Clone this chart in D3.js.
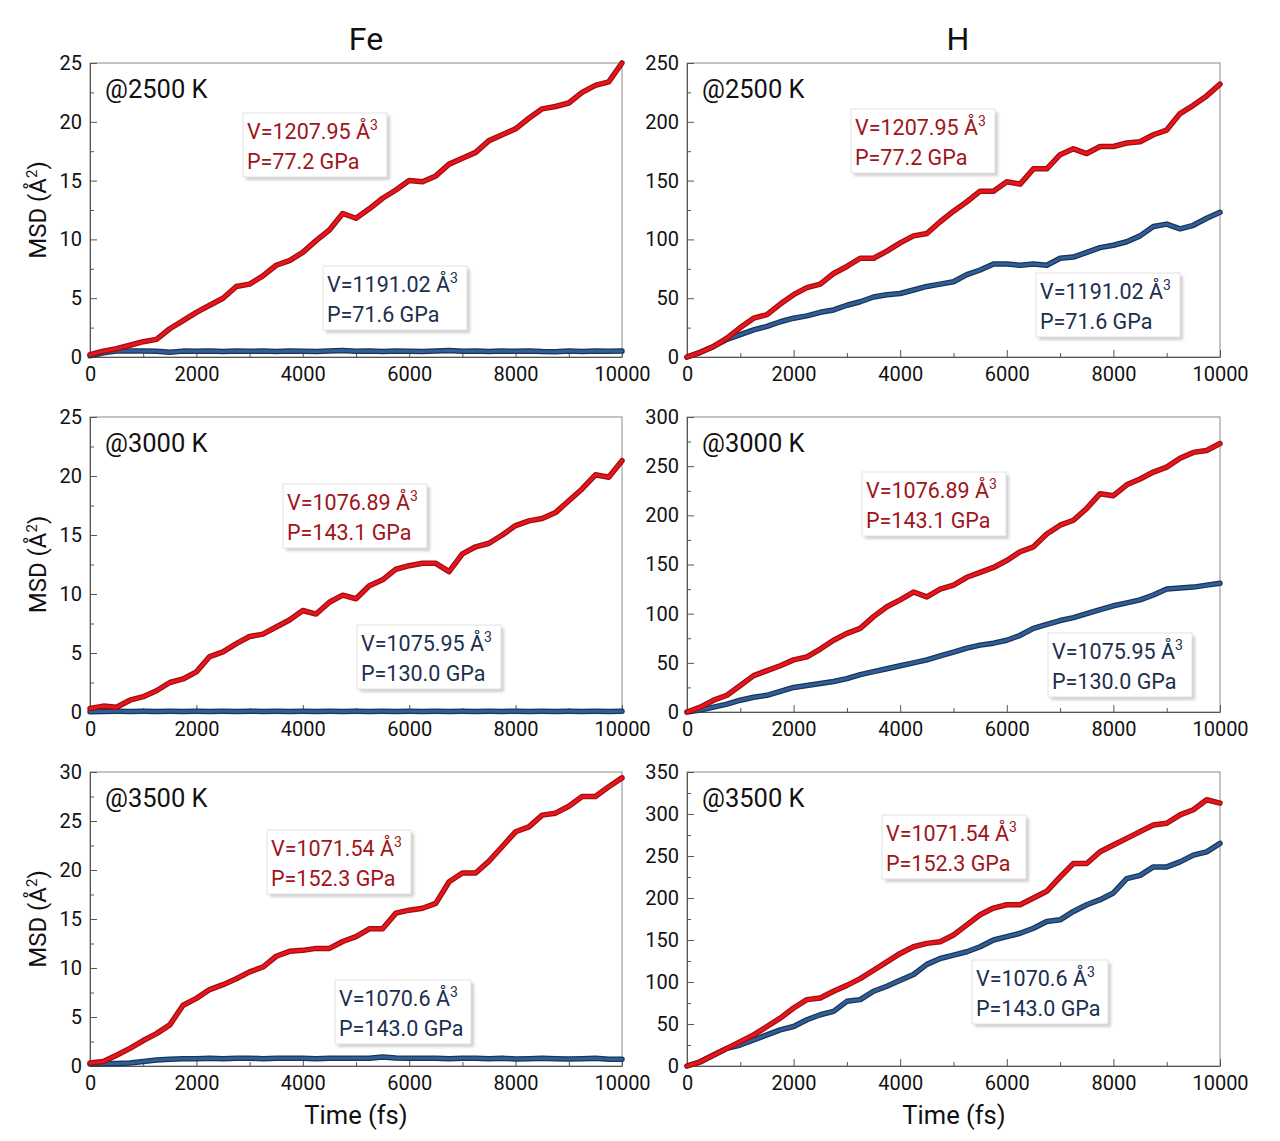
<!DOCTYPE html>
<html>
<head>
<meta charset="utf-8">
<script src="https://cdn.jsdelivr.net/npm/d3@7"></script>
<style>
  html, body { margin: 0; padding: 0; background: #fff; }
  svg { display: block; font-family: Roboto, "Noto Sans", sans-serif; }
</style>
</head>
<body>
<svg id="chart" width="1280" height="1141"></svg>
<script>
// ---------------- DATA ----------------
const timeFs = [0,250,500,750,1000,1250,1500,1750,2000,2250,2500,2750,3000,3250,3500,3750,4000,4250,4500,4750,
  5000,5250,5500,5750,6000,6250,6500,6750,7000,7250,7500,7750,8000,8250,8500,8750,9000,9250,9500,9750,10000];

const columnTitles = ["Fe", "H"];
const temperatures = ["@2500 K", "@3000 K", "@3500 K"];

const xTicks = [0, 2000, 4000, 6000, 8000, 10000];
const yMaxFe = [25, 25, 30];
const yMaxH = [250, 300, 350];

// Fe MSD (Å^2)
const feRed2500 = [0.2,0.5,0.7,1.0,1.3,1.5,2.4,3.1,3.8,4.4,5.0,6.0,6.2,6.9,7.8,8.2,8.9,9.9,10.8,12.2,
  11.8,12.6,13.5,14.2,15.0,14.9,15.4,16.4,16.9,17.4,18.4,18.9,19.4,20.3,21.1,21.3,21.6,22.5,23.1,23.4,25.0];
const feBlue2500 = [0.1,0.35,0.5,0.5,0.5,0.48,0.4,0.5,0.48,0.5,0.47,0.5,0.48,0.5,0.46,0.5,0.48,0.47,0.5,0.55,
  0.48,0.5,0.47,0.5,0.48,0.46,0.5,0.55,0.48,0.5,0.47,0.5,0.48,0.5,0.46,0.45,0.5,0.47,0.5,0.48,0.5];
const feRed3000 = [0.3,0.5,0.4,1.0,1.3,1.8,2.5,2.8,3.4,4.7,5.1,5.8,6.4,6.6,7.2,7.8,8.6,8.3,9.3,9.9,
  9.6,10.7,11.2,12.1,12.4,12.6,12.6,11.9,13.4,14.0,14.3,15.0,15.8,16.2,16.4,16.9,17.9,18.9,20.1,19.9,21.3];
const feBlue3000 = [0.02,0.05,0.06,0.05,0.06,0.05,0.06,0.05,0.06,0.05,0.06,0.05,0.06,0.05,0.06,0.05,0.06,0.05,0.06,0.05,
  0.06,0.05,0.06,0.05,0.06,0.05,0.06,0.05,0.06,0.05,0.06,0.05,0.06,0.05,0.06,0.05,0.06,0.05,0.06,0.05,0.06];
const feRed3500 = [0.3,0.45,1.1,1.8,2.6,3.3,4.2,6.2,6.9,7.8,8.3,8.9,9.6,10.1,11.2,11.7,11.8,12.0,12.0,12.7,
  13.2,14.0,14.0,15.6,15.9,16.1,16.6,18.8,19.7,19.7,20.9,22.4,23.9,24.4,25.6,25.8,26.5,27.5,27.5,28.5,29.4];
const feBlue3500 = [0.2,0.22,0.25,0.3,0.45,0.62,0.7,0.75,0.75,0.8,0.75,0.78,0.8,0.75,0.78,0.8,0.78,0.75,0.8,0.78,
  0.8,0.78,0.92,0.82,0.8,0.78,0.8,0.75,0.78,0.8,0.75,0.78,0.72,0.75,0.78,0.75,0.72,0.75,0.8,0.7,0.7];

// H MSD (Å^2)
const hRed2500 = [0,4,9,16,25,33,36,45,53,59,62,71,77,84,84,90,97,103,105,115,
  124,132,141,141,149,147,160,160,172,177,173,179,179,182,183,189,193,207,214,222,232];
const hBlue2500 = [0,4,9,15,19,23,26,30,33,35,38,40,44,47,51,53,54,57,60,62,
  64,70,74,79,79,78,79,78,84,85,89,93,95,98,103,111,113,109,112,118,123];
const hRed3000 = [0,5,12,17,27,37,42,47,53,56,64,73,80,85,97,107,114,122,117,125,
  129,137,142,147,154,163,168,181,190,195,207,222,220,231,237,244,249,258,264,266,273];
const hBlue3000 = [0,2,5,8,12,15,17,21,25,27,29,31,34,38,41,44,47,50,53,57,
  61,65,68,70,73,78,85,89,93,96,100,104,108,111,114,119,125,126,127,129,131];
const hRed3500 = [0,5,13,21,29,37,47,57,69,79,81,89,96,104,114,124,134,142,146,148,
  156,168,180,188,192,192,200,208,225,241,241,255,263,271,279,287,289,299,305,317,313];
const hBlue3500 = [0,5,13,21,25,31,37,43,47,55,61,65,77,79,89,95,102,109,121,128,
  132,136,142,150,154,158,164,172,174,184,192,198,206,223,227,237,237,243,251,255,265];

// annotation labels [volume, pressure]
const redLabels  = [["1207.95","77.2"],["1076.89","143.1"],["1071.54","152.3"]];
const blueLabels = [["1191.02","71.6"],["1075.95","130.0"],["1070.6","143.0"]];

// ---------------- LAYOUT ----------------
const svg = d3.select("#chart");
const colX = [[90, 622], [687, 1220]];
const rowY = [[63, 357], [417, 712], [772, 1066]];

const RED = "#e8161c", RED_EDGE = "#9e0e12";
const BLUE = "#2f5f96", BLUE_EDGE = "#1b3458";
const RED_TXT = "#a0141a", BLUE_TXT = "#1c2f4f";

// shadow filter
const defs = svg.append("defs");
const f = defs.append("filter").attr("id","shadow").attr("x","-10%").attr("y","-10%").attr("width","130%").attr("height","140%");
f.append("feGaussianBlur").attr("stdDeviation", 1.6);

const panels = [
  {c:0, r:0, red: feRed2500, blue: feBlue2500, ymax: yMaxFe[0], step: 5,
   redBox:[243,113], blueBox:[323,266], lab: [redLabels[0], blueLabels[0]]},
  {c:1, r:0, red: hRed2500, blue: hBlue2500, ymax: yMaxH[0], step: 50,
   redBox:[851,109], blueBox:[1036,273], lab: [redLabels[0], blueLabels[0]]},
  {c:0, r:1, red: feRed3000, blue: feBlue3000, ymax: yMaxFe[1], step: 5,
   redBox:[283,484], blueBox:[357,625], lab: [redLabels[1], blueLabels[1]]},
  {c:1, r:1, red: hRed3000, blue: hBlue3000, ymax: yMaxH[1], step: 50,
   redBox:[862,472], blueBox:[1048,633], lab: [redLabels[1], blueLabels[1]]},
  {c:0, r:2, red: feRed3500, blue: feBlue3500, ymax: yMaxFe[2], step: 5,
   redBox:[267,830], blueBox:[335,980], lab: [redLabels[2], blueLabels[2]]},
  {c:1, r:2, red: hRed3500, blue: hBlue3500, ymax: yMaxH[2], step: 50,
   redBox:[882,815], blueBox:[972,960], lab: [redLabels[2], blueLabels[2]]},
];

panels.forEach(p => {
  const [x0, x1] = colX[p.c];
  const [y0, y1] = rowY[p.r];
  const x = d3.scaleLinear().domain([0, 10000]).range([x0, x1]);
  const y = d3.scaleLinear().domain([0, p.ymax]).range([y1, y0]);
  const g = svg.append("g");

  // frame
  g.append("rect").attr("x", x0).attr("y", y0).attr("width", x1 - x0).attr("height", y1 - y0)
    .attr("fill", "none").attr("stroke", "#8a8a8a").attr("stroke-width", 1);

  // minor ticks
  const xMinor = d3.range(1000, 10000, 2000);
  const yMinor = d3.range(p.step / 2, p.ymax, p.step);
  g.append("g").attr("transform", `translate(0,${y1})`)
    .call(d3.axisBottom(x).tickValues(xMinor).tickSize(-4).tickSizeOuter(0).tickFormat(""))
    .call(s => s.select(".domain").remove())
    .call(s => s.selectAll("line").attr("stroke", "#555"));
  g.append("g").attr("transform", `translate(${x0},0)`)
    .call(d3.axisLeft(y).tickValues(yMinor).tickSize(-4).tickSizeOuter(0).tickFormat(""))
    .call(s => s.select(".domain").remove())
    .call(s => s.selectAll("line").attr("stroke", "#555"));

  // major axes
  const xa = g.append("g").attr("transform", `translate(0,${y1})`)
    .call(d3.axisBottom(x).tickValues(xTicks).tickSize(-7).tickSizeOuter(0).tickPadding(10).tickFormat(d3.format("d")));
  const ya = g.append("g").attr("transform", `translate(${x0},0)`)
    .call(d3.axisLeft(y).tickValues(d3.range(0, p.ymax + 0.001, p.step)).tickSize(-7).tickSizeOuter(0).tickPadding(8).tickFormat(d3.format("d")));
  [xa, ya].forEach(a => {
    a.select(".domain").attr("stroke", "#555");
    a.selectAll("line").attr("stroke", "#555");
    a.selectAll("text").attr("font-size", 20).attr("fill", "#111").attr("font-family", "Roboto");
  });

  // lines
  const line = d3.line().x((d, i) => x(timeFs[i])).y(d => y(d));
  const drawSeries = (data, edge, col) => {
    g.append("path").datum(data).attr("d", line).attr("fill", "none")
      .attr("stroke", edge).attr("stroke-width", 5.5).attr("stroke-linejoin", "round").attr("stroke-linecap", "round");
    g.append("path").datum(data).attr("d", line).attr("fill", "none")
      .attr("stroke", col).attr("stroke-width", 3).attr("stroke-linejoin", "round").attr("stroke-linecap", "round");
  };
  drawSeries(p.blue, BLUE_EDGE, BLUE);
  drawSeries(p.red, RED_EDGE, RED);

  // temperature label
  g.append("text").attr("x", x0 + 15).attr("y", y0 + 35)
    .attr("font-size", 25.5).attr("fill", "#111").text(temperatures[p.r]);

  // annotation boxes
  const drawBox = (pos, lab, color) => {
    const [bx, by] = pos;
    const w = lab[0].length > 6 ? 144 : 136, h = 64;
    g.append("rect").attr("x", bx + 3).attr("y", by + 3).attr("width", w).attr("height", h)
      .attr("fill", "#cfcfcf").attr("filter", "url(#shadow)");
    g.append("rect").attr("x", bx).attr("y", by).attr("width", w).attr("height", h)
      .attr("fill", "#fff").attr("stroke", "#e2e2e2").attr("stroke-width", 1);
    const t1 = g.append("text").attr("x", bx + 4).attr("y", by + 26)
      .attr("font-size", 21.5).attr("fill", color);
    t1.append("tspan").text(`V=${lab[0]} Å`);
    t1.append("tspan").attr("dy", -9).attr("font-size", 14).text("3");
    g.append("text").attr("x", bx + 4).attr("y", by + 56)
      .attr("font-size", 21.5).attr("fill", color).text(`P=${lab[1]} GPa`);
  };
  drawBox(p.redBox, p.lab[0], RED_TXT);
  drawBox(p.blueBox, p.lab[1], BLUE_TXT);
});

// column titles
const titleX = [366, 958];
columnTitles.forEach((t, i) => {
  svg.append("text").attr("x", titleX[i]).attr("y", 50).attr("text-anchor", "middle")
    .attr("font-size", 32).attr("fill", "#111").text(t);
});

// y axis labels
rowY.forEach(([y0, y1]) => {
  const t = svg.append("text").attr("transform", `translate(46,${(y0 + y1) / 2}) rotate(-90)`)
    .attr("text-anchor", "middle").attr("font-size", 24).attr("fill", "#111");
  t.append("tspan").text("MSD (Å");
  t.append("tspan").attr("dy", -9).attr("font-size", 15).text("2");
  t.append("tspan").attr("dy", 9).text(")");
});

// x axis labels
const xLabelX = [356, 954];
xLabelX.forEach(cx => {
  svg.append("text").attr("x", cx).attr("y", 1124).attr("text-anchor", "middle")
    .attr("font-size", 25.5).attr("fill", "#111").text("Time (fs)");
});
</script>
</body>
</html>
